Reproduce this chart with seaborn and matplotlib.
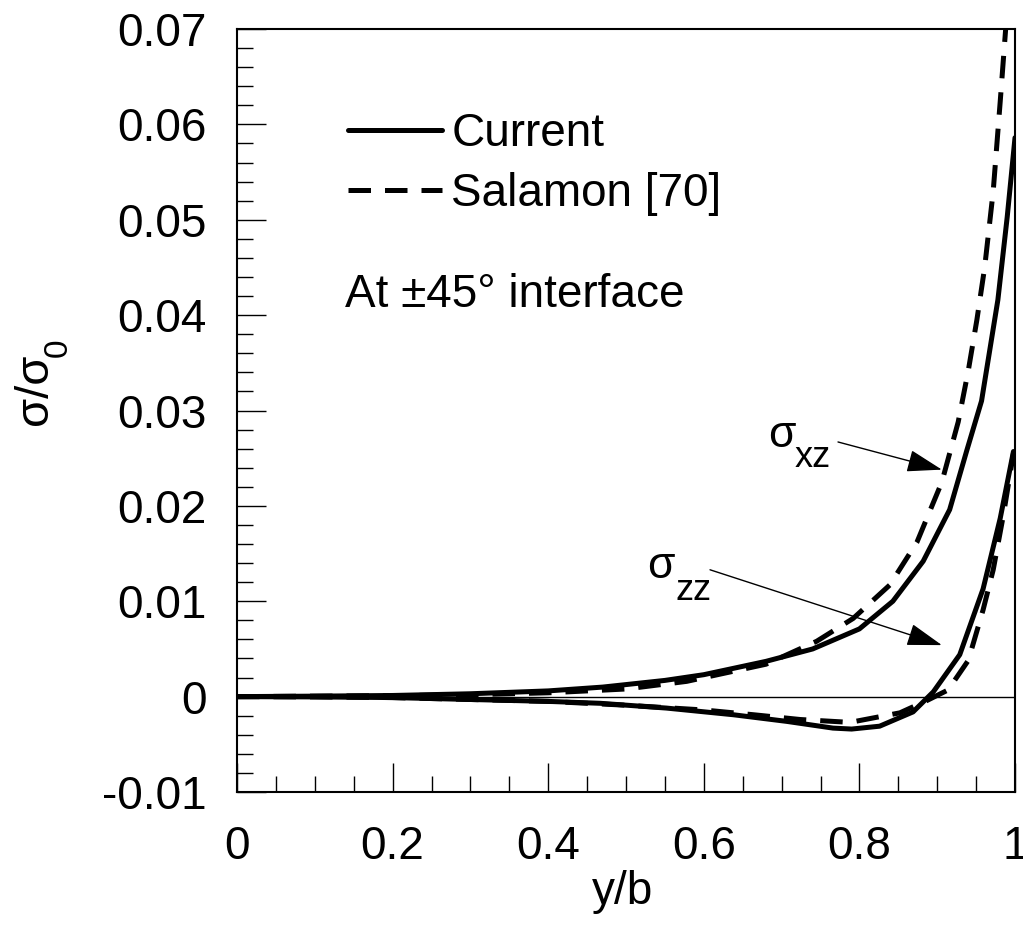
import numpy as np
import pandas as pd
import matplotlib
matplotlib.use("Agg")
import matplotlib.pyplot as plt
import seaborn as sns
from matplotlib.ticker import FixedLocator, MultipleLocator

# ---------------- data ----------------
cur_xz_x = [0, 0.1, 0.2, 0.3, 0.4, 0.47, 0.55, 0.6, 0.68, 0.74, 0.80, 0.843, 0.882,
            0.916, 0.938, 0.957, 0.978, 0.99, 1.0]
cur_xz_y = [0, 0.00005, 0.00012, 0.0003, 0.0006, 0.0010, 0.0017, 0.0023, 0.0037,
            0.0050, 0.0071, 0.0100, 0.0142, 0.0196, 0.0258, 0.0310, 0.0416, 0.0503, 0.0586]

sal_xz_x = [0, 0.1, 0.2, 0.3, 0.4, 0.5, 0.578, 0.68, 0.745, 0.792, 0.839, 0.874,
            0.906, 0.927, 0.94, 0.951, 0.961, 0.972, 0.981, 0.988]
sal_xz_y = [0, 0.00005, 0.0001, 0.0002, 0.0004, 0.0008, 0.0016, 0.0034, 0.0058,
            0.0082, 0.0117, 0.0162, 0.0225, 0.0288, 0.0342, 0.0395, 0.0450, 0.0530,
            0.0624, 0.0700]

cur_zz_x = [0, 0.1, 0.2, 0.3, 0.4, 0.467, 0.552, 0.638, 0.707, 0.766, 0.79, 0.826,
            0.869, 0.895, 0.929, 0.959, 0.981, 0.998]
cur_zz_y = [0, -0.00003, -0.0001, -0.0003, -0.0005, -0.0007, -0.0012, -0.0019,
            -0.0026, -0.0033, -0.0034, -0.0031, -0.0016, 0.0005, 0.0044, 0.0113,
            0.0187, 0.0257]

sal_zz_x = [0, 0.1, 0.2, 0.3, 0.4, 0.5, 0.6, 0.664, 0.724, 0.788, 0.852, 0.887,
            0.914, 0.94, 0.959, 0.972, 0.985, 0.998]
sal_zz_y = [0, -0.00003, -0.0001, -0.0003, -0.0005, -0.0009, -0.0014, -0.0019,
            -0.0024, -0.0027, -0.0017, -0.0004, 0.0007, 0.0038, 0.0091, 0.0133,
            0.0190, 0.0255]

x_ticks = [0, 0.2, 0.4, 0.6, 0.8, 1.0]
x_tick_labels = ["0", "0.2", "0.4", "0.6", "0.8", "1"]
y_ticks = [-0.01, 0, 0.01, 0.02, 0.03, 0.04, 0.05, 0.06, 0.07]
y_tick_labels = ["-0.01", "0", "0.01", "0.02", "0.03", "0.04", "0.05", "0.06", "0.07"]

legend_labels = ["Current", "Salamon [70]"]
note_text = "At \u00b145\u00b0 interface"

# ---------------- style ----------------
sns.set_theme(style="ticks")
plt.rcParams["font.family"] = ["Liberation Sans", "DejaVu Sans"]
plt.rcParams["axes.unicode_minus"] = False
plt.rcParams["text.color"] = "black"

fig = plt.figure(figsize=(10.23, 9.30), dpi=100)
ax = fig.add_axes([237 / 1023, 1 - 792 / 930, (1015 - 237) / 1023, (792 - 29) / 930])

LW = 3.6
DASH = (0, (4.5, 2.8))

sns.lineplot(x=cur_xz_x, y=cur_xz_y, ax=ax, color="black", lw=LW, sort=False,
             estimator=None, label=legend_labels[0])
sns.lineplot(x=sal_xz_x, y=sal_xz_y, ax=ax, color="black", lw=LW, sort=False,
             estimator=None, linestyle=DASH, label=legend_labels[1])
sns.lineplot(x=cur_zz_x, y=cur_zz_y, ax=ax, color="black", lw=LW, sort=False,
             estimator=None, label="_nolegend_")
sns.lineplot(x=sal_zz_x, y=sal_zz_y, ax=ax, color="black", lw=LW, sort=False,
             estimator=None, linestyle=DASH, label="_nolegend_")

ax.axhline(0, color="black", lw=1.0, zorder=1)

ax.set_xlim(0, 1)
ax.set_ylim(-0.01, 0.07)

ax.xaxis.set_major_locator(FixedLocator(x_ticks))
ax.set_xticklabels(x_tick_labels)
ax.xaxis.set_minor_locator(MultipleLocator(0.05))
ax.yaxis.set_major_locator(FixedLocator(y_ticks))
ax.set_yticklabels(y_tick_labels)
ax.yaxis.set_minor_locator(MultipleLocator(0.002))

ax.tick_params(which="major", direction="in", length=21, width=1.0, color="black",
               labelsize=33, labelcolor="black", top=False, right=False)
ax.tick_params(axis="y", which="major", pad=22)
ax.tick_params(axis="x", which="major", pad=24)
ax.tick_params(which="minor", direction="in", length=11.5, width=1.0, color="black",
               top=False, right=False)

for s in ax.spines.values():
    s.set_visible(True)
    s.set_color("black")
    s.set_linewidth(1.5)

ax.set_xlabel("y/b", fontsize=33, color="black")
ax.xaxis.set_label_coords(0.495, -0.102)
# y label: sigma/sigma with a large, low subscript 0
ax.set_ylabel("\u03c3/\u03c3", fontsize=34, color="black")
ax.yaxis.set_label_coords(-0.231, 0.528)
ax.text(-0.2294, 0.5826, "0", transform=ax.transAxes, fontsize=24, rotation=90,
        ha="center", va="center", color="black", clip_on=False)

handles, labels = ax.get_legend_handles_labels()
leg = ax.legend(handles=handles[:2], labels=legend_labels, loc="upper left",
                bbox_to_anchor=((348 - 237) / 778, (792 - 112) / 763), frameon=False,
                fontsize=33, handlelength=2.05, handletextpad=0.2, labelspacing=0.35,
                borderpad=0, borderaxespad=0)
for t in leg.get_texts():
    t.set_color("black")

ax.text(0.139, 0.636, note_text, transform=ax.transAxes, fontsize=33,
        ha="left", va="baseline", color="black")

# annotations
ax.text(0.6825, 0.02617, "\u03c3", fontsize=32, ha="left", va="baseline", color="black")
ax.text(0.717, 0.02407, "xz", fontsize=26, ha="left", va="baseline", color="black")
ax.text(0.527, 0.01244, "\u03c3", fontsize=32, ha="left", va="baseline", color="black")
ax.text(0.563, 0.01013, "zz", fontsize=26, ha="left", va="baseline", color="black")

arrow_kw = dict(arrowstyle="-|>,head_length=1.1,head_width=0.35", color="black",
                lw=1.0, mutation_scale=20, shrinkA=0, shrinkB=0)
ax.annotate("", xy=(0.906, 0.0238), xytext=(0.7725, 0.0267), arrowprops=arrow_kw)
ax.annotate("", xy=(0.906, 0.0054), xytext=(0.608, 0.0133), arrowprops=arrow_kw)

fig.savefig("out.png", dpi=100)
